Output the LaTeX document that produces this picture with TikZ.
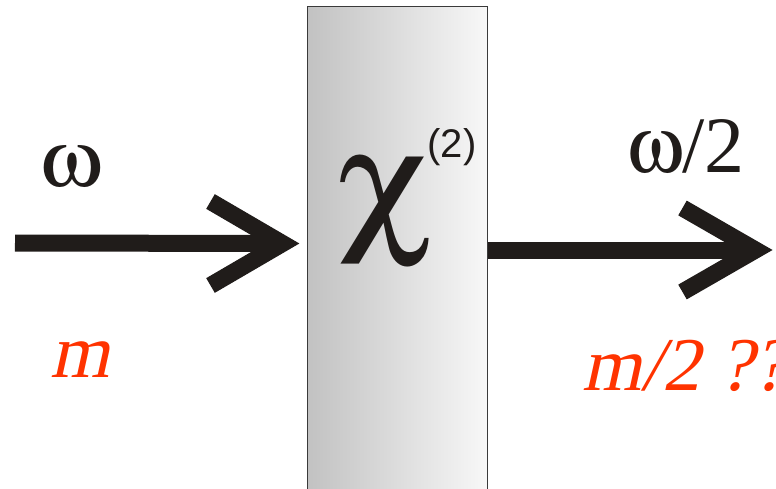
\documentclass[tikz,border=0pt]{standalone}
\usepackage{fontspec}
\usepackage{pifont}
\newfontfamily\tms{Liberation Serif}
\newfontfamily\tmsit[FakeSlant=0.22]{Liberation Serif}
\newfontfamily\sansf{Liberation Sans}
\usetikzlibrary{calc}
\definecolor{ink}{HTML}{201C1A}
\definecolor{redlbl}{HTML}{FF3300}
\definecolor{boxedge}{HTML}{3A3A3A}
\newcommand{\symomega}{\Pisymbol{psy}{119}}
\newcommand{\symchi}{\Pisymbol{psy}{99}}
\tikzset{
  crystal/.style={rectangle, draw=boxedge, line width=1pt, inner sep=0pt,
    left color=black!24, right color=black!3,
    minimum width=180pt, minimum height=483pt},
  shaft/.style={draw=ink, line width=17pt, line cap=butt},
  barb/.style={draw=ink, line width=17pt, line join=miter, line cap=butt},
  wlabel/.style={text=ink, inner sep=0pt, anchor=base west, font=\tms\fontsize{80}{80}\selectfont},
  mlabel/.style={text=redlbl, inner sep=0pt, anchor=base west, font=\tmsit\fontsize{76}{78}\selectfont},
}
\begin{document}
\begin{tikzpicture}[x=1pt,y=-1pt]
\useasboundingbox (0,0) rectangle (776,489);
\node[crystal] (box) at (397,248.5) {};
\node[text=ink, inner sep=0pt, anchor=base, xscale=1.12, font=\fontsize{155}{155}\selectfont] (chi) at (386,234) {\symchi};
\node[text=ink, inner sep=0pt, font=\sansf\fontsize{40}{40}\selectfont] (sup) at (452,147) {(2)};
% input arrow
\coordinate (inL) at (15,243);
\coordinate (vL) at (282.5,243.5);
\draw[shaft] (inL) -- (vL);
\draw[barb] ([shift={(-72,-42)}]vL) -- (vL) -- ([shift={(-72,42)}]vL);
% output arrow
\coordinate (outR) at ([yshift=-1.5pt]box.east);
\coordinate (vR) at (755.5,250);
\draw[shaft] (outR) -- (vR);
\draw[barb] ([shift={(-73,-42)}]vR) -- (vR) -- ([shift={(-73,42)}]vR);
% labels
\node[wlabel, xscale=1.1] (w1) at (40,187) {\symomega};
\node[wlabel] (w2) at (627,173) {\symomega/2};
\node[mlabel] (m1) at (50,377) {m};
\node[mlabel] (m2) at (582,390) {m/2 ??};
\end{tikzpicture}
\end{document}
